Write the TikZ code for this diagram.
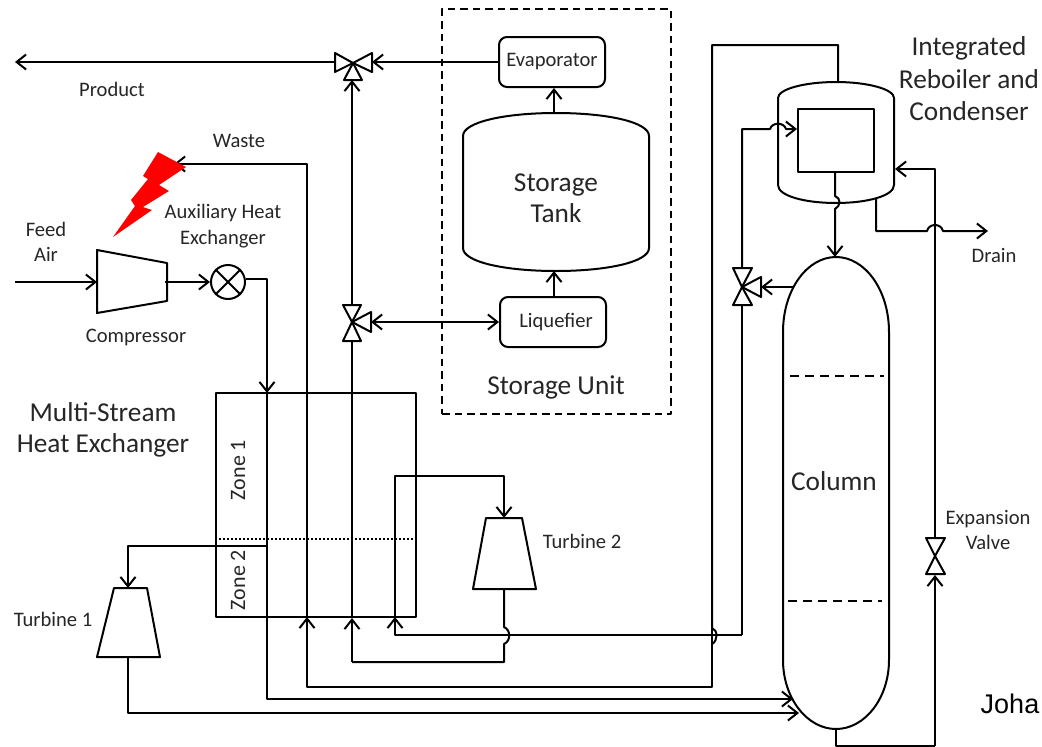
\documentclass[tikz,border=0pt]{standalone}
\usepackage{fontspec}
\setmainfont{Carlito}
\newfontfamily\arialfont{Liberation Sans}
\usetikzlibrary{arrows.meta}
\definecolor{ink}{HTML}{262626}
\tikzset{
  pipe/.style={draw=black,line width=2pt,line join=round},
  flow/.style={pipe,-{Straight Barb[length=9.5pt,width=15pt,line width=2pt]}},
  both/.style={pipe,{Straight Barb[length=9.5pt,width=15pt,line width=2pt]}-{Straight Barb[length=9.5pt,width=15pt,line width=2pt]}},
  shell/.style={pipe,fill=white},
  roundbox/.style={pipe,rounded corners=8pt,fill=white,inner sep=0pt,text=ink},
  plainbox/.style={pipe,inner sep=0pt},
  small/.style={text=ink,font=\fontsize{20.6}{24.5}\selectfont,align=center,inner sep=0pt},
  big/.style={text=ink,font=\fontsize{27.3}{31.5}\selectfont,align=center,inner sep=0pt},
}
\begin{document}
\begin{tikzpicture}[x=1pt,y=-1pt]
\useasboundingbox (0,0) rectangle (1042,747);

% boxes
\node[plainbox,minimum width=200pt,minimum height=224pt] (hx) at (316,505) {};
\node[pipe,dash pattern=on 7.5pt off 5pt,minimum width=229pt,minimum height=405pt,inner sep=0pt] (unit) at (556.5,211.5) {};
\draw[draw=black,line width=2pt,dash pattern=on 2pt off 2pt] (219,539) -- (415,539);

% way points
\coordinate (productend) at (15,62);
\coordinate (feedstart) at (15,282);
\coordinate (v1w) at (335,62);
\coordinate (v1e) at (372,62);
\coordinate (v1s) at (352,80);
\coordinate (v2n) at (352,305);
\coordinate (v2s) at (352,341);
\coordinate (v2e) at (371,322);
\coordinate (v3n) at (742,268);
\coordinate (v3s) at (742,305);
\coordinate (v3e) at (761,287);
\coordinate (v4n) at (935,538);
\coordinate (v4s) at (935,575);
\coordinate (tanktop) at (554,113);
\coordinate (tankbot) at (554,271);
\coordinate (cmpin) at (97,282);
\coordinate (cmpout) at (165,282);
\coordinate (t1top) at (128,588);
\coordinate (t1bot) at (128,657);
\coordinate (t2top) at (504,518);
\coordinate (t2bot) at (504,589);
\coordinate (drainend) at (988,231);
\coordinate (wasteend) at (174,164);

% boxes with text
\node[roundbox,minimum width=106pt,minimum height=50pt,font=\fontsize{20.6}{24}\selectfont] (evap) at (552,62) {\raisebox{-1pt}{Evaporator}};
\node[roundbox,minimum width=106pt,minimum height=50pt,font=\fontsize{20.6}{24}\selectfont] (liq) at (553,322) {\hspace*{6pt}\raisebox{-1pt}{Liquefier}};

% vessels
\draw[shell] (463,136) .. controls (463,122) and (505,113) .. (556,113) .. controls (607,113) and (649,122) .. (649,136)
  -- (649,248) .. controls (649,262) and (607,271) .. (556,271) .. controls (505,271) and (463,262) .. (463,248) -- cycle;
\draw[shell] (778,98) .. controls (778,89) and (805,82) .. (836,82) .. controls (867,82) and (894,89) .. (894,98)
  -- (894,185) .. controls (894,196) and (867,203) .. (836,203) .. controls (805,203) and (778,196) .. (778,185) -- cycle;
\node[plainbox,minimum width=76pt,minimum height=63pt,fill=white] (inner) at (836,140.5) {};
\draw[shell] (783,332) .. controls (783,290) and (807,257) .. (836,257) .. controls (865,257) and (889,290) .. (889,332)
  -- (889,660) .. controls (889,698) and (865,729) .. (836,729) .. controls (807,729) and (783,698) .. (783,660) -- cycle;
\draw[draw=black,line width=2pt,dash pattern=on 9pt off 6pt] (790,376) -- (884,376);
\draw[draw=black,line width=2pt,dash pattern=on 9pt off 6pt] (788,601) -- (882,601);

% machines
\draw[pipe] (97,250) -- (167,263) -- (167,301) -- (97,313) -- cycle;
\draw[pipe] (114,588) -- (147,588) -- (160,657) -- (97,657) -- cycle;
\draw[pipe] (486,518) -- (522,518) -- (536,589) -- (473,589) -- cycle;
\node[pipe,circle,minimum size=34pt,inner sep=0pt] (aux) at (228,282) {};
\draw[pipe] (aux.north west) -- (aux.south east) (aux.north east) -- (aux.south west);

% connectors
\draw[flow] (v1w) -- (productend);
\draw[flow] (evap.west) -- (v1e);
\draw[flow] (v2n) -- (v1s);
\draw[both] (v2e) -- (liq.west);
\draw[flow] (tanktop) -- (evap.south -| tanktop);
\draw[flow] (liq.north -| tankbot) -- (tankbot);
\draw[flow] (feedstart) -- (cmpin);
\draw[flow] (cmpout) -- (aux.west);
\draw[flow] (aux.east |- 0,279) -- (267,279) -- (267,393);
\draw[pipe] (267,393) -- (267,699) -- (700,699);
\draw[flow] (700,699) -- (793,699);
\draw[flow] (267,546) -- (128,546) -- (t1top);
\draw[flow] (t1bot) -- (128,713) -- (799,713);
% waste / nitrogen return
\draw[flow] (307,617) -- (307,164) -- (wasteend);
\draw[flow] (712,629) -- (712,687) -- (307,687) -- (307,617);
\draw[pipe] (712,644) .. controls (718,641) and (718,630) .. (712,628) -- (712,45) -- (838,45) -- (838,82);
% turbine 2 loop
\draw[flow] (395,617) -- (395,476) -- (504,476) -- (t2top);
\draw[flow] (742,635) -- (395,635) -- (395,617);
\draw[pipe] (742,635) -- (v3s);
\draw[pipe] (t2bot) -- (504,627) .. controls (511,630) and (511,641) .. (504,644) -- (504,662) -- (352,662);
\draw[flow] (352,662) -- (352,618);
\draw[pipe] (352,618) -- (v2s);
% right part
\draw[flow] (v3n) -- (742,129) -- (770,129) .. controls (772,122) and (784,122) .. (786,129) -- (inner.west |- 0,129);
\draw[flow] (793,287) -- (v3e);
\draw[flow] (835,172) -- (835,196) .. controls (841,198) and (841,206) .. (835,209) -- (835,257);
\draw[flow] (v4s |- 0,746) -- (v4s);
\draw[pipe] (836,729) -- (836,746) -- (v4s |- 0,746);
\draw[flow] (v4n) -- (935,169) -- (895,169);
\draw[flow] (876,198) -- (876,231) -- (927,231) .. controls (929,223) and (941,223) .. (943,231) -- (drainend);

% valves
\draw[shell] (353,63) -- (335,53) -- (335,72) -- cycle;
\draw[shell] (353,63) -- (372,53) -- (372,72) -- cycle;
\draw[shell] (353,63) -- (344,80) -- (362,80) -- cycle;
\draw[shell] (352,322) -- (343,305) -- (361,305) -- cycle;
\draw[shell] (352,322) -- (343,341) -- (361,341) -- cycle;
\draw[shell] (352,322) -- (371,312) -- (371,332) -- cycle;
\draw[shell] (742,287) -- (733,268) -- (752,268) -- cycle;
\draw[shell] (742,287) -- (733,305) -- (752,305) -- cycle;
\draw[shell] (742,287) -- (761,277) -- (761,297) -- cycle;
\draw[shell] (935,556) -- (926,538) -- (945,538) -- cycle;
\draw[shell] (935,556) -- (926,574) -- (945,574) -- cycle;

% lightning
\fill[red] (158,152) -- (186,167) -- (159,185) -- (169,191) -- (143,207) -- (152,210) -- (113,237) -- (135,206) -- (131,200) -- (148,179) -- (143,176) -- cycle;

% labels
\node[small] (lproduct) at (112,89) {Product};
\node[small] (lwaste) at (239,141) {Waste};
\node[small] (lfeed) at (46,242) {Feed\\Air};
\node[small,font=\fontsize{20.6}{26}\selectfont] (laux) at (223,226) {Auxiliary Heat\\Exchanger};
\node[small] (lcomp) at (136,337) {Compressor};
\node[big] (lmulti) at (103,430) {Multi-Stream\\Heat Exchanger};
\node[small,rotate=90,font=\fontsize{22}{26}\selectfont] (lz1) at (238,470) {Zone 1};
\node[small,rotate=90,font=\fontsize{22}{26}\selectfont] (lz2) at (238,580) {Zone 2};
\node[small] (lt1) at (53,619) {Turbine 1};
\node[small] (lt2) at (582,541) {Turbine 2};
\node[big] (ltank) at (556,198) {Storage\\Tank};
\node[big] (lunit) at (556,387) {Storage Unit};
\node[big] (lcol) at (834,481) {Column};
\node[small] (lexp) at (988,530) {Expansion\\Valve};
\node[big,font=\fontsize{27.3}{32.5}\selectfont] (lint) at (969,79) {Integrated\\Reboiler and\\Condenser};
\node[small] (ldrain) at (994,255) {Drain};
\node[inner sep=0pt,text=black,font=\arialfont\fontsize{27}{30}\selectfont] (ljoha) at (1010,704) {Joha};
\end{tikzpicture}
\end{document}
